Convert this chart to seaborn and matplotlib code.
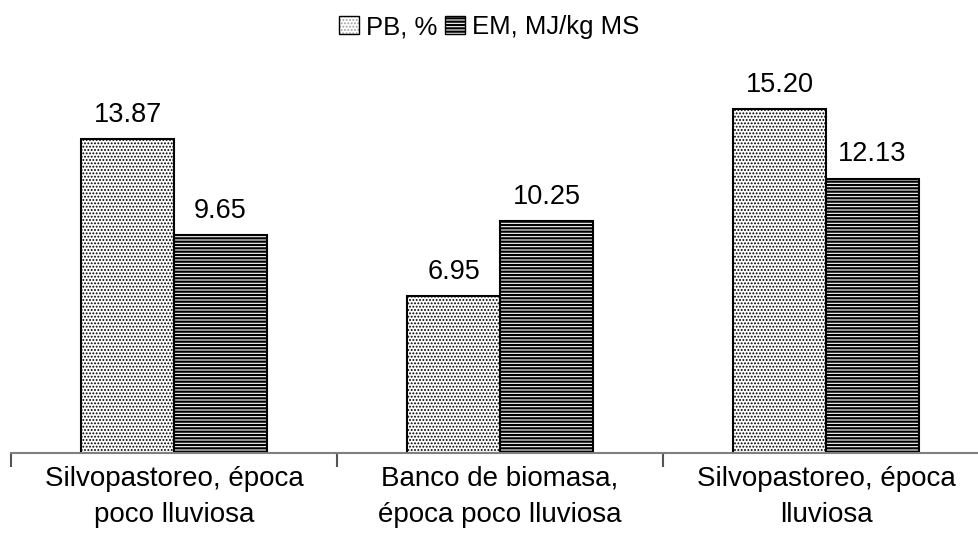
import matplotlib
matplotlib.use("Agg")
import matplotlib.pyplot as plt
import seaborn as sns
import pandas as pd
from matplotlib.patches import Patch

# data
categories = ["Silvopastoreo, época\npoco lluviosa",
              "Banco de biomasa,\népoca poco lluviosa",
              "Silvopastoreo, época\nlluviosa"]
series = ["PB, %", "EM, MJ/kg MS"]
pb_values = [13.87, 6.95, 15.20]
em_values = [9.65, 10.25, 12.13]

df = pd.DataFrame({
    "cat": categories * 2,
    "serie": [series[0]] * 3 + [series[1]] * 3,
    "valor": pb_values + em_values,
})

sns.set_style("white")
plt.rcParams["font.family"] = ["Liberation Sans", "DejaVu Sans"]
plt.rcParams["text.color"] = "black"
plt.rcParams["xtick.color"] = "black"
plt.rcParams["hatch.linewidth"] = 1.6

fig = plt.figure(figsize=(9.79, 5.44), dpi=100)
ax = fig.add_axes([11 / 979, 1 - 453 / 544, 968 / 979, (453 - 91) / 544])

sns.barplot(data=df, x="cat", y="valor", hue="serie", order=categories,
            hue_order=series, palette=["white", "white"], width=0.57,
            edgecolor="black", linewidth=1.5, ax=ax, legend=False)

hatches = [".....", "-----"]
hatch_colors = ["#a0a0a0", "black"]
hatch_widths = [0.9, 1.6]
for container, h, hc, hw in zip(ax.containers, hatches, hatch_colors, hatch_widths):
    for bar in container:
        bar.set_hatch(h)
        bar._hatch_color = matplotlib.colors.to_rgba(hc)
        bar._hatch_linewidth = hw
        bar.set_edgecolor("black")
    ax.bar_label(container, fmt="%.2f", padding=8, fontsize=19.5,
                 color="black")

ax.set_xlim(-0.5, -0.5 + 968 / 326)
ax.set_ylim(0, 16)
ax.set_xlabel("")
ax.set_ylabel("")
ax.set_yticks([])
ax.set_xticks([-0.5, 0.5, 1.5])
ax.set_xticklabels([])
ax.set_xticks([0, 1, 2], minor=True)
ax.set_xticklabels(categories, minor=True, fontsize=20, linespacing=1.55,
                   color="black")
ax.tick_params(axis="x", which="major", bottom=True, length=10, width=1.5,
               color="#555555", direction="out")
ax.tick_params(axis="x", which="minor", bottom=True, length=0, pad=9)
for side in ["left", "right", "top"]:
    ax.spines[side].set_visible(False)
ax.spines["bottom"].set_color("#808080")
ax.spines["bottom"].set_linewidth(1.5)

handles = [Patch(facecolor="white", edgecolor="black", hatch=h, label=s)
           for h, s in zip(hatches, series)]
leg = fig.legend(handles=handles, loc="center", bbox_to_anchor=(0.5, 1 - 27 / 544),
                 ncol=2, frameon=False, fontsize=18.5, handlelength=0.75,
                 handleheight=0.75, handletextpad=0.3, columnspacing=0.3)
for patch, hc, hw in zip(leg.get_patches(), hatch_colors, hatch_widths):
    patch._hatch_color = matplotlib.colors.to_rgba(hc)
    patch._hatch_linewidth = hw

fig.savefig("out.png", dpi=100)
